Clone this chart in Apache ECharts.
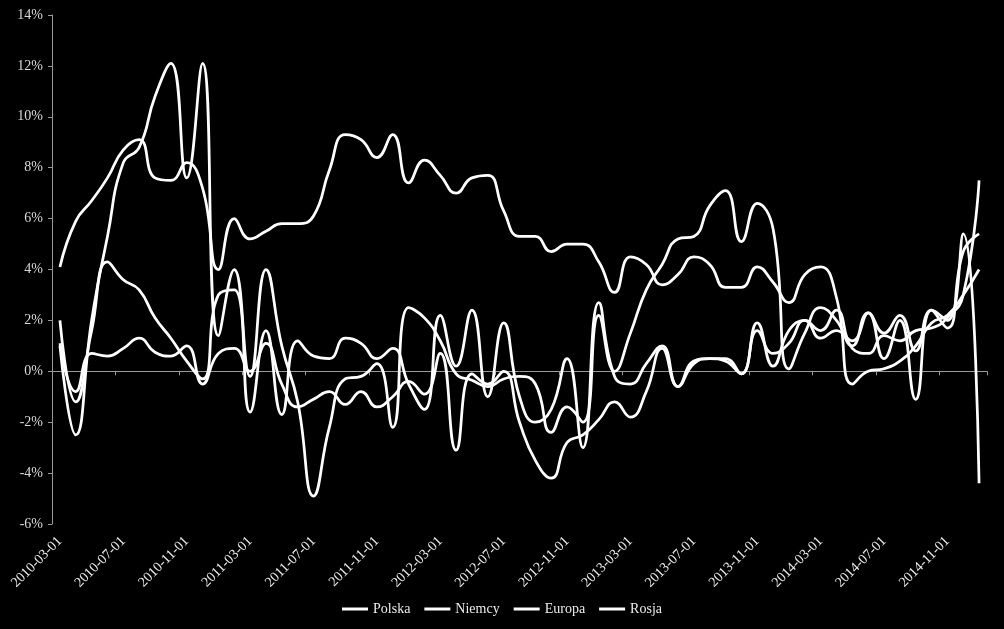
<!DOCTYPE html>
<html>
<head>
<meta charset="utf-8">
<script src="https://cdn.jsdelivr.net/npm/echarts@6/dist/echarts.min.js"></script>
<style>
html,body{margin:0;padding:0;background:#000;}
#chart{width:1004px;height:629px;}
</style>
</head>
<body>
<div id="chart"></div>
<script>
const categories = [
'2010-03-01','2010-04-01','2010-05-01','2010-06-01','2010-07-01','2010-08-01','2010-09-01','2010-10-01','2010-11-01','2010-12-01',
'2011-01-01','2011-02-01','2011-03-01','2011-04-01','2011-05-01','2011-06-01','2011-07-01','2011-08-01','2011-09-01','2011-10-01','2011-11-01','2011-12-01',
'2012-01-01','2012-02-01','2012-03-01','2012-04-01','2012-05-01','2012-06-01','2012-07-01','2012-08-01','2012-09-01','2012-10-01','2012-11-01','2012-12-01',
'2013-01-01','2013-02-01','2013-03-01','2013-04-01','2013-05-01','2013-06-01','2013-07-01','2013-08-01','2013-09-01','2013-10-01','2013-11-01','2013-12-01',
'2014-01-01','2014-02-01','2014-03-01','2014-04-01','2014-05-01','2014-06-01','2014-07-01','2014-08-01','2014-09-01','2014-10-01','2014-11-01','2014-12-01',
'2015-01-01'
];
const seriesNames = ['Polska','Niemcy','Europa','Rosja'];
const polska = [4.1,5.9,6.7,7.6,8.7,9.1,7.6,7.5,8.2,7.2,4.0,6.0,5.2,5.5,5.8,5.8,6.1,7.9,9.3,9.1,8.4,9.3,7.4,8.3,7.7,7.0,7.6,7.7,6.3,5.3,5.3,4.7,5.0,5.0,4.3,3.1,4.5,4.2,3.4,3.8,4.5,4.2,3.3,3.3,4.1,3.5,2.7,3.8,4.1,2.9,-0.5,0.0,0.1,0.4,1.0,1.9,2.2,3.0,4.0];
const niemcy = [2.0,-1.2,1.6,4.3,3.6,3.2,2.1,1.3,0.4,-0.3,3.0,3.2,-1.6,1.6,-1.7,1.2,0.6,0.5,1.3,1.1,0.5,0.9,-0.5,-1.5,2.2,0.2,2.4,-1.0,1.9,-1.0,-2.0,-1.5,0.5,-3.0,2.7,-0.2,-0.5,0.3,1.0,-0.6,0.3,0.5,0.5,-0.1,1.9,0.2,1.6,2.0,1.3,1.6,1.2,2.3,0.5,2.0,-1.1,2.4,1.7,4.7,5.4];
const europa = [1.1,-0.8,0.7,0.6,0.9,1.3,0.75,0.6,1.0,-0.5,0.7,0.9,0.0,1.1,-0.5,-1.4,-1.1,-0.8,-1.3,-0.8,-1.4,-1.0,-0.4,-0.9,0.7,-3.1,-0.1,-0.5,0.0,-2.0,-3.5,-4.2,-2.8,-2.5,-1.9,-1.2,-1.8,-0.8,0.9,-0.6,0.4,0.5,0.4,-0.1,1.6,0.7,1.1,2.0,1.6,2.4,0.9,0.7,1.4,1.2,1.6,1.7,2.1,3.0,7.5];
const rosja = [1.0,-2.5,2.0,5.3,8.2,8.8,10.8,12.1,7.6,12.1,1.4,4.0,-0.2,4.0,1.0,-1.2,-4.9,-2.2,-0.3,-0.2,0.3,-2.2,2.5,2.1,1.2,-0.1,-0.35,-0.6,-0.3,-0.2,-0.5,-2.4,-1.4,-2.0,2.2,0.0,1.5,3.2,4.2,5.2,5.3,6.5,7.1,5.1,6.6,5.6,0.1,1.5,2.5,2.0,1.0,2.3,1.5,2.2,0.8,2.4,2.0,5.4,-4.4];
const yTicks = {min:-6, max:14, interval:2};

const dataSets = [polska, niemcy, europa, rosja];
const font = 'Liberation Serif';
const chart = echarts.init(document.getElementById('chart'), null, {renderer:'canvas'});
chart.setOption({
  backgroundColor:'#000',
  animation:false,
  grid:{left:52,right:17,top:15,bottom:105},
  legend:{
    data:seriesNames,
    bottom:8,
    left:'center',
    icon:'rect',
    itemWidth:26,
    itemHeight:3,
    itemGap:14,
    textStyle:{color:'#ececec',fontFamily:font,fontSize:14}
  },
  xAxis:[
    {type:'category',data:categories,boundaryGap:true,
     axisLine:{onZero:true,lineStyle:{color:'#9a9a9a',width:1}},
     axisTick:{show:true,interval:3,length:4,lineStyle:{color:'#9a9a9a'}},
     axisLabel:{show:false},splitLine:{show:false}},
    {type:'category',data:categories,boundaryGap:true,position:'bottom',
     axisLine:{show:false,onZero:false},
     axisTick:{show:false},
     axisLabel:{interval:3,rotate:45,margin:15,color:'#ececec',fontFamily:font,fontSize:14},
     splitLine:{show:false}}
  ],
  yAxis:{type:'value',min:yTicks.min,max:yTicks.max,interval:yTicks.interval,
    axisLine:{show:true,lineStyle:{color:'#9a9a9a'}},
    axisTick:{show:true,length:4,lineStyle:{color:'#9a9a9a'}},
    splitLine:{show:false},
    axisLabel:{formatter:'{value}%',color:'#d9d9d9',fontFamily:font,fontSize:14,margin:9}
  },
  series:seriesNames.map((n,k)=>({
    name:n,type:'line',xAxisIndex:0,data:dataSets[k],smooth:0.5,symbol:'none',
    lineStyle:{color:'#ffffff',width:2.75},itemStyle:{color:'#ffffff'}
  }))
});
</script>
</body>
</html>
